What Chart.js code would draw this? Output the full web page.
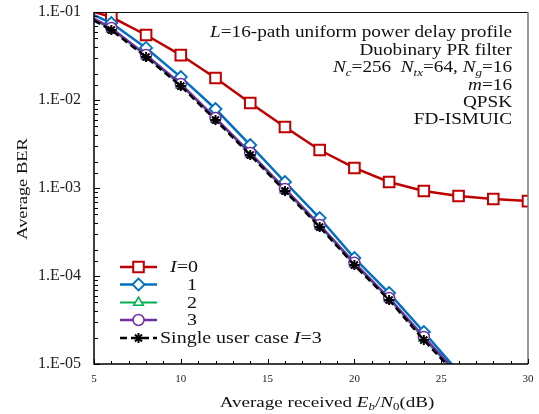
<!DOCTYPE html>
<html>
<head>
<meta charset="utf-8">
<script src="https://cdn.jsdelivr.net/npm/chart.js@4"></script>
<style>
html,body{margin:0;padding:0;background:#fff;}
#c{display:block;}
</style>
</head>
<body>
<canvas id="c" width="539" height="414"></canvas>
<script>
// ---- data ----
const snrI0 = [5, 6, 8, 10, 12, 14, 16, 18, 20, 22, 24, 26, 28, 30];
const berI0 = [0.1, 0.0877, 0.0548, 0.0324, 0.0178, 0.00924, 0.00493, 0.0027, 0.00169, 0.00117, 0.000924, 0.000812, 0.00075, 0.00071];
const snrI = [5, 6, 8, 10, 12, 14, 16, 18, 20, 22, 24, 26];
const berI1 = [0.092, 0.075, 0.039, 0.0182, 0.0079, 0.00308, 0.00117, 0.000456, 0.00016, 6.4e-5, 2.31e-5, 8.1e-6];
const berI2 = [0.082, 0.064, 0.0316, 0.0148, 0.0061, 0.00243, 0.00095, 0.00037, 0.000137, 5.5e-5, 1.95e-5, 7.3e-6];
const berI3 = [0.084, 0.0658, 0.0324, 0.0152, 0.00624, 0.0025, 0.000975, 0.00038, 0.000141, 5.62e-5, 2.03e-5, 7.6e-6];
const berSingle = [0.08, 0.0624, 0.0308, 0.0144, 0.00593, 0.00237, 0.000925, 0.00036, 0.000133, 5.34e-5, 1.87e-5, 7.1e-6];
const xTickValues = [5, 10, 15, 20, 25, 30];
const yTickLabels = ['1.E-05', '1.E-04', '1.E-03', '1.E-02', '1.E-01'];
const legendLabels = ['0', '1', '2', '3', 'Single user case '];
const noteLines = [
  [{t:'L', i:1}, {t:'=16-path uniform power delay profile'}],
  [{t:'Duobinary PR filter'}],
  [{t:'N', i:1}, {t:'c', i:1, s:1}, {t:'=256  '}, {t:'N', i:1}, {t:'tx', i:1, s:1}, {t:'=64, '}, {t:'N', i:1}, {t:'g', i:1, s:1}, {t:'=16'}],
  [{t:'m', i:1}, {t:'=16'}],
  [{t:'QPSK'}],
  [{t:'FD-ISMUIC'}]
];
const xTitle = [{t:'Average received '}, {t:'E', i:1}, {t:'b', i:1, s:1}, {t:'/'}, {t:'N', i:1}, {t:'0', s:1}, {t:'(dB)'}];
const yTitle = [{t:'Average BER'}];

const FONT = '"Liberation Serif", "Times New Roman", serif';
const pts = (xs, ys) => xs.map((x, k) => ({x: x, y: ys[k]}));
const rad = r => ctx => {
  const p = ctx.raw;
  if (!p || p.x === 5 || p.y < 1e-5) return 0;
  return r;
};

const series = [
  {label: legendLabels[0], data: pts(snrI0, berI0), color: '#C00000', style: 'rect', r: 7.5, bw: 2.5, pbw: 2, order: 5},
  {label: legendLabels[1], data: pts(snrI, berI1), color: '#0070C0', style: 'rectRot', r: 6, bw: 2.5, pbw: 1.8, order: 4},
  {label: legendLabels[2], data: pts(snrI, berI2), color: '#00B050', style: 'triangle', r: 5.5, bw: 2, pbw: 1.5, order: 3},
  {label: legendLabels[3], data: pts(snrI, berI3), color: '#7030A0', style: 'circle', r: 5.5, bw: 2.5, pbw: 1.5, order: 2},
  {label: legendLabels[4], data: pts(snrI, berSingle), color: '#000000', style: 'star', r: 5, bw: 2.5, pbw: 2, order: 1, dash: [7, 4]}
];

function richWidth(ctx, parts, size) {
  let w = 0;
  parts.forEach(p => {
    ctx.font = (p.i ? 'italic ' : '') + (p.s ? size * 0.68 : size) + 'px ' + FONT;
    w += ctx.measureText(p.t).width;
  });
  return w;
}
// draws text stretched along its baseline by sx
function drawRich(ctx, parts, x, y, align, size, sx) {
  const w = richWidth(ctx, parts, size) * sx;
  let cx = align === 'right' ? x - w : (align === 'center' ? x - w / 2 : x);
  ctx.save();
  ctx.translate(cx, y);
  ctx.scale(sx, 1);
  ctx.textAlign = 'left';
  ctx.textBaseline = 'alphabetic';
  let ox = 0;
  parts.forEach(p => {
    ctx.font = (p.i ? 'italic ' : '') + (p.s ? size * 0.68 : size) + 'px ' + FONT;
    ctx.fillText(p.t, ox, p.s ? size * 0.22 : 0);
    ox += ctx.measureText(p.t).width;
  });
  ctx.restore();
}

const decor = {
  id: 'decor',
  afterDraw(chart) {
    const ctx = chart.ctx;
    const a = chart.chartArea;
    const xs = chart.scales.x, ys = chart.scales.y;
    ctx.save();
    // frame
    ctx.lineCap = 'butt';
    ctx.strokeStyle = '#111';
    ctx.lineWidth = 1;
    ctx.beginPath(); ctx.moveTo(a.left, a.top + 0.5); ctx.lineTo(a.right, a.top + 0.5); ctx.stroke();
    ctx.strokeStyle = '#777';
    ctx.lineWidth = 1.5;
    ctx.beginPath(); ctx.moveTo(a.right, a.top); ctx.lineTo(a.right, a.bottom); ctx.stroke();
    ctx.strokeStyle = '#000';
    ctx.lineWidth = 1.5;
    ctx.beginPath(); ctx.moveTo(a.left, a.top); ctx.lineTo(a.left, a.bottom); ctx.lineTo(a.right, a.bottom); ctx.stroke();
    // y ticks (inside)
    ctx.lineWidth = 1;
    ys.ticks.forEach(t => {
      const py = Math.round(ys.getPixelForValue(t.value)) + 0.5;
      const l = Math.log10(t.value);
      const major = Math.abs(l - Math.round(l)) < 1e-6;
      ctx.beginPath(); ctx.moveTo(a.left, py); ctx.lineTo(a.left + (major ? 6 : 4), py); ctx.stroke();
    });
    // x ticks (inside)
    for (let v = xs.min; v <= xs.max; v++) {
      const px = Math.round(xs.getPixelForValue(v)) + 0.5;
      const major = v % 5 === 0;
      ctx.beginPath(); ctx.moveTo(px, a.bottom); ctx.lineTo(px, a.bottom - (major ? 5 : 3)); ctx.stroke();
    }
    ctx.fillStyle = '#111';
    // axis titles
    drawRich(ctx, xTitle, 327, 407, 'center', 15, 1.27);
    ctx.save();
    ctx.translate(22, 189);
    ctx.rotate(-Math.PI / 2);
    drawRich(ctx, yTitle, 0, 5, 'center', 15, 1.23);
    ctx.restore();
    // notes
    const noteBase = [37, 55, 72, 90, 107, 124];
    noteLines.forEach((ln, k) => drawRich(ctx, ln, 512, noteBase[k], 'right', 16, 1.2));
    // legend
    const rows = [267, 284.5, 302.5, 320, 338];
    series.forEach((s, k) => {
      const y = rows[k];
      ctx.save();
      ctx.strokeStyle = s.color;
      ctx.lineWidth = s.bw;
      ctx.setLineDash(s.dash || []);
      ctx.beginPath(); ctx.moveTo(120, y); ctx.lineTo(157, y); ctx.stroke();
      ctx.setLineDash([]);
      ctx.fillStyle = '#fff';
      ctx.lineWidth = s.pbw;
      Chart.helpers.drawPoint(ctx, {pointStyle: s.style, radius: s.r, borderWidth: s.pbw, rotation: 0}, 138.5, y);
      ctx.restore();
      ctx.fillStyle = '#111';
      if (k === 0) drawRich(ctx, [{t:'I', i:1}, {t:'=' + s.label}], 170, y + 5, 'left', 16, 1.25);
      else if (k < 4) drawRich(ctx, [{t:s.label}], 197, y + 5, 'right', 16, 1.25);
      else drawRich(ctx, [{t:s.label}, {t:'I', i:1}, {t:'=3'}], 160, y + 5, 'left', 16, 1.25);
    });
    ctx.restore();
  }
};

new Chart(document.getElementById('c'), {
  type: 'scatter',
  data: {
    datasets: series.map(s => ({
      label: s.label,
      data: s.data,
      showLine: true,
      borderColor: s.color,
      borderWidth: s.bw,
      borderDash: s.dash || [],
      backgroundColor: '#ffffff',
      pointBackgroundColor: '#ffffff',
      pointBorderColor: s.color,
      pointBorderWidth: s.pbw,
      pointStyle: s.style,
      pointRadius: rad(s.r),
      order: s.order,
      tension: 0
    }))
  },
  options: {
    responsive: false,
    animation: false,
    devicePixelRatio: 1,
    layout: {padding: {top: 12, right: 11, left: 0, bottom: 0}},
    plugins: {legend: {display: false}, tooltip: {enabled: false}},
    scales: {
      x: {
        type: 'linear', min: 5, max: 30,
        afterFit: s => { s.height = 50; s.paddingLeft = 0; s.paddingRight = 0; },
        afterBuildTicks: s => { s.ticks = xTickValues.map(v => ({value: v})); },
        grid: {display: false, drawTicks: false},
        border: {display: false},
        ticks: {padding: 9, color: '#222', font: {family: FONT, size: 11}}
      },
      y: {
        type: 'logarithmic', min: 1e-5, max: 1e-1,
        afterFit: s => { s.width = 94; s.paddingTop = 0; s.paddingBottom = 0; },
        grid: {display: false, drawTicks: false},
        border: {display: false},
        ticks: {
          autoSkip: false, padding: 13, color: '#222', font: {family: FONT, size: 16},
          callback: v => {
            const l = Math.log10(v);
            if (Math.abs(l - Math.round(l)) > 1e-6) return '';
            return yTickLabels[Math.round(l) + 5];
          }
        }
      }
    }
  },
  plugins: [decor]
});
</script>
</body>
</html>
